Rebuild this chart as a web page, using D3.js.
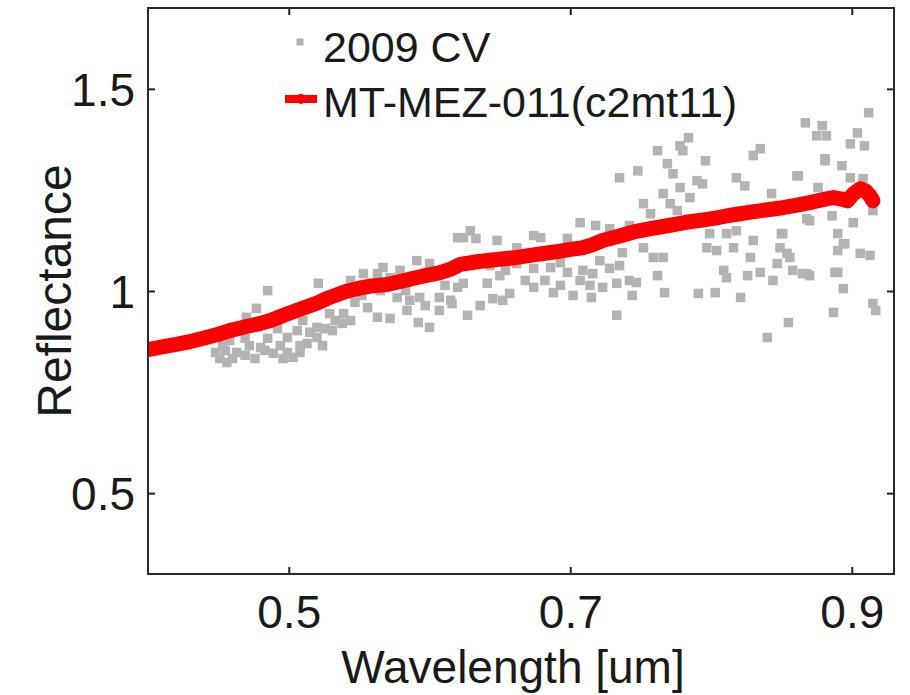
<!DOCTYPE html>
<html>
<head>
<meta charset="utf-8">
<script src="https://cdn.jsdelivr.net/npm/d3@7"></script>
<style>
  body { margin: 0; background: #fff; }
  text { font-family: "Liberation Sans", Arial, sans-serif; fill: #1a1a1a; }
</style>
</head>
<body>
<div id="chart"></div>
<script>
var svgWidth = 910;
var svgHeight = 695;
var margin = {top: 8, right: 16, bottom: 121, left: 148};
var chartWidth = svgWidth - margin.left - margin.right;
var chartHeight = svgHeight - margin.top - margin.bottom;

// red model spectrum
var lineWave = [0.400, 0.410, 0.420, 0.430, 0.440, 0.450, 0.458, 0.470, 0.480, 0.487,
  0.495, 0.508, 0.520, 0.529, 0.540, 0.550, 0.558, 0.570, 0.580, 0.588,
  0.597, 0.607, 0.615, 0.622, 0.635, 0.648, 0.662, 0.675, 0.690, 0.700,
  0.709, 0.716, 0.723, 0.735, 0.745, 0.757, 0.770, 0.782, 0.795, 0.804,
  0.815, 0.828, 0.840, 0.851, 0.862, 0.872, 0.882, 0.887, 0.892, 0.897,
  0.901, 0.906, 0.910, 0.913, 0.915];
var lineRefl = [0.855, 0.862, 0.868, 0.875, 0.884, 0.893, 0.902, 0.912, 0.920, 0.927,
  0.938, 0.955, 0.970, 0.984, 0.998, 1.007, 1.012, 1.016, 1.024, 1.031,
  1.038, 1.045, 1.054, 1.066, 1.073, 1.078, 1.083, 1.090, 1.097, 1.103,
  1.107, 1.115, 1.125, 1.136, 1.146, 1.154, 1.162, 1.170, 1.176, 1.181,
  1.188, 1.195, 1.201, 1.206, 1.213, 1.220, 1.228, 1.231, 1.228, 1.223,
  1.240, 1.253, 1.247, 1.235, 1.223];

// 2009 CV measured points
var cvWave = [0.485, 0.521, 0.477, 0.470, 0.458, 0.456, 0.463, 0.472, 0.480, 0.489,
  0.499, 0.503, 0.513, 0.520, 0.524, 0.531, 0.538, 0.539, 0.529, 0.520,
  0.506, 0.499, 0.544, 0.553, 0.567, 0.563, 0.572, 0.563, 0.577, 0.584,
  0.591, 0.600, 0.600, 0.607, 0.615, 0.620, 0.448, 0.453, 0.465, 0.483,
  0.485, 0.492, 0.501, 0.510, 0.547, 0.556, 0.572, 0.583, 0.593, 0.592,
  0.552, 0.565, 0.544, 0.460, 0.508,
  0.451, 0.455, 0.469, 0.476, 0.483, 0.494, 0.496, 0.508, 0.515, 0.526,
  0.533, 0.490, 0.477, 0.469,
  0.547, 0.559, 0.575, 0.586, 0.597, 0.607, 0.611, 0.579,
  0.643, 0.654, 0.682, 0.693, 0.714, 0.721, 0.735,
  0.735, 0.769, 0.773, 0.780, 0.766, 0.778, 0.785, 0.771, 0.776, 0.790,
  0.794, 0.752, 0.757, 0.830, 0.818, 0.824, 0.861, 0.881, 0.893, 0.899,
  0.908, 0.843, 0.876, 0.707, 0.718, 0.728, 0.742, 0.629, 0.624, 0.633,
  0.648, 0.674, 0.679, 0.662, 0.698, 0.737, 0.752, 0.759, 0.766, 0.797,
  0.804, 0.816, 0.830, 0.828, 0.850, 0.849, 0.856, 0.847, 0.890, 0.894,
  0.890, 0.906, 0.913, 0.901, 0.886, 0.870, 0.915, 0.811, 0.799, 0.818,
  0.809, 0.811, 0.826, 0.835, 0.844, 0.858, 0.865, 0.870, 0.888, 0.894,
  0.887, 0.855, 0.840, 0.915, 0.917, 0.821, 0.803, 0.791, 0.767, 0.762,
  0.744, 0.733, 0.715, 0.702, 0.688, 0.674, 0.723, 0.733, 0.742, 0.747,
  0.707, 0.716, 0.728, 0.709, 0.698, 0.686, 0.674, 0.662, 0.650, 0.641,
  0.657, 0.652, 0.636, 0.627, 0.616, 0.624,
  0.912, 0.867, 0.879, 0.875, 0.882, 0.904, 0.899, 0.909, 0.881, 0.862,
  0.868, 0.851, 0.895, 0.854, 0.868, 0.890, 0.784, 0.778, 0.762, 0.835,
  0.796, 0.748, 0.620, 0.645, 0.679, 0.693, 0.668];
var cvRefl = [1.001, 1.019, 0.957, 0.935, 0.878, 0.823, 0.848, 0.865, 0.860, 0.846,
  0.848, 0.836, 0.870, 0.885, 0.865, 0.902, 0.920, 0.944, 0.944, 0.910,
  0.902, 0.885, 1.026, 1.043, 1.058, 1.043, 1.033, 0.935, 0.984, 0.952,
  1.075, 1.068, 0.910, 0.984, 0.977, 1.132, 0.848, 0.865, 0.902, 0.927,
  0.883, 0.907, 0.947, 0.927, 0.972, 0.959, 0.932, 1.001, 0.984, 0.922,
  0.989, 1.001, 0.927, 0.833, 0.865,
  0.833, 0.853, 0.841, 0.833, 0.853, 0.865, 0.833, 0.848, 0.898, 0.907,
  0.927, 0.922, 0.915, 0.883,
  1.001, 1.019, 1.026, 0.977, 0.964, 0.952, 1.014, 1.051,
  1.063, 1.051, 1.026, 1.014, 1.014, 1.075, 1.063,
  1.280, 1.315, 1.290, 1.347, 1.241, 1.256, 1.231, 1.216, 1.199, 1.273,
  1.265, 1.216, 1.191, 1.335, 1.280, 1.260, 1.285, 1.327, 1.310, 1.280,
  1.278, 1.241, 1.256, 1.169, 1.162, 1.154, 1.162, 1.149, 1.132, 1.130,
  1.125, 1.137, 1.132, 1.107, 1.130, 1.095, 1.107, 1.083, 1.083, 1.107,
  1.100, 1.107, 1.125, 1.083, 1.142, 1.107, 1.083, 1.068, 1.142, 1.117,
  1.100, 1.093, 1.088, 1.169, 1.186, 1.174, 1.199, 1.142, 1.142, 1.149,
  1.051, 1.033, 1.038, 1.046, 1.026, 1.051, 1.043, 1.038, 1.046, 1.006,
  0.947, 0.922, 0.885, 0.969, 0.952, 0.984, 0.996, 0.994, 0.996, 1.038,
  0.989, 0.940, 0.984, 0.989, 0.996, 1.009, 1.009, 1.019, 1.026, 1.021,
  1.026, 1.043, 1.056, 1.051, 1.046, 1.058, 1.056, 1.068, 1.038, 1.019,
  0.994, 0.977, 0.964, 0.940, 0.969, 1.019,
  1.441, 1.416, 1.409, 1.384, 1.384, 1.391, 1.364, 1.359, 1.322, 1.285,
  1.179, 1.142, 1.117, 1.093, 1.043, 1.046, 1.379, 1.359, 1.347, 1.352,
  1.322, 1.297, 1.009, 0.981, 1.088, 1.070, 1.026];

var xTicks = [0.5, 0.7, 0.9];
var yTicks = [0.5, 1, 1.5];
var legendNames = ["2009 CV", "MT-MEZ-011(c2mt11)"];

var svg = d3.select("#chart").append("svg")
  .attr("width", svgWidth)
  .attr("height", svgHeight);
var chartGroup = svg.append("g")
  .attr("transform", `translate(${margin.left}, ${margin.top})`);

var xScale = d3.scaleLinear().domain([0.4, 0.93]).range([0, chartWidth]);
var yScale = d3.scaleLinear().domain([0.3, 1.7]).range([chartHeight, 0]);

svg.append("clipPath").attr("id", "plotclip")
  .append("rect").attr("width", chartWidth).attr("height", chartHeight);

var plot = chartGroup.append("g").attr("clip-path", "url(#plotclip)");

// scatter
var sq = 9.5;
plot.append("g").selectAll("rect")
  .data(d3.range(cvWave.length))
  .enter()
  .append("rect")
  .attr("x", i => xScale(cvWave[i]) - sq / 2)
  .attr("y", i => yScale(cvRefl[i]) - sq / 2)
  .attr("width", sq)
  .attr("height", sq)
  .attr("fill", "#b3b3b3");

// red line
var line = d3.line()
  .x(i => xScale(lineWave[i]))
  .y(i => yScale(lineRefl[i]));
plot.append("path")
  .datum(d3.range(lineWave.length))
  .attr("d", line)
  .attr("fill", "none")
  .attr("stroke", "#ff0000")
  .attr("stroke-width", 15)
  .attr("stroke-linejoin", "round")
  .attr("stroke-linecap", "round");

// axes (ticks inward on all four sides)
function styleAxis(g) {
  g.select(".domain").remove();
  g.selectAll(".tick line").attr("stroke", "#222").attr("stroke-width", 2);
  g.selectAll(".tick text")
    .attr("font-size", "46px")
    .attr("font-family", '"Liberation Sans", Arial, sans-serif')
    .attr("fill", "#1a1a1a");
}

var fmt = d3.format("");
chartGroup.append("g")
  .attr("transform", `translate(0, ${chartHeight})`)
  .call(d3.axisBottom(xScale).tickValues(xTicks).tickSize(-7).tickPadding(21).tickFormat(fmt))
  .call(styleAxis);
chartGroup.append("g")
  .call(d3.axisTop(xScale).tickValues(xTicks).tickSize(-7).tickFormat(""))
  .call(styleAxis);
chartGroup.append("g")
  .call(d3.axisLeft(yScale).tickValues(yTicks).tickSize(-7).tickPadding(13).tickFormat(fmt))
  .call(styleAxis);
chartGroup.append("g")
  .attr("transform", `translate(${chartWidth}, 0)`)
  .call(d3.axisRight(yScale).tickValues(yTicks).tickSize(-7).tickFormat(""))
  .call(styleAxis);

chartGroup.selectAll(".tick text").attr("dy", null);
chartGroup.selectAll(".tick text")
  .filter(function() { return this.parentNode.parentNode.getAttribute("text-anchor") === "middle"; })
  .attr("dy", "0.71em");
chartGroup.selectAll(".tick text")
  .filter(function() { return this.parentNode.parentNode.getAttribute("text-anchor") === "end"; })
  .attr("dy", "0.36em");

// frame
chartGroup.append("rect")
  .attr("width", chartWidth)
  .attr("height", chartHeight)
  .attr("fill", "none")
  .attr("stroke", "#2a2a2a")
  .attr("stroke-width", 2);

// axis labels
chartGroup.append("text")
  .attr("x", chartWidth / 2 - 8)
  .attr("y", chartHeight + 109)
  .attr("text-anchor", "middle")
  .attr("font-size", "46px")
  .text("Wavelength [um]");

chartGroup.append("text")
  .attr("transform", "rotate(-90)")
  .attr("x", -chartHeight / 2)
  .attr("y", -77)
  .attr("text-anchor", "middle")
  .attr("font-size", "48px")
  .text("Reflectance");

// legend
var legend = svg.append("g");
legend.append("rect")
  .attr("x", 300 - 3.5).attr("y", 42 - 3.5)
  .attr("width", 7).attr("height", 7)
  .attr("fill", "#b3b3b3");
legend.append("line")
  .attr("x1", 285).attr("x2", 317)
  .attr("y1", 99).attr("y2", 99)
  .attr("stroke", "#ff0000")
  .attr("stroke-width", 8);
legend.append("circle")
  .attr("cx", 301).attr("cy", 99).attr("r", 5)
  .attr("fill", "#ff0000");
legend.selectAll("text.leg")
  .data(legendNames)
  .enter()
  .append("text")
  .attr("class", "leg")
  .attr("x", 323)
  .attr("y", (d, i) => 62 + i * 55)
  .attr("font-size", "43px")
  .text(d => d);
</script>
</body>
</html>
